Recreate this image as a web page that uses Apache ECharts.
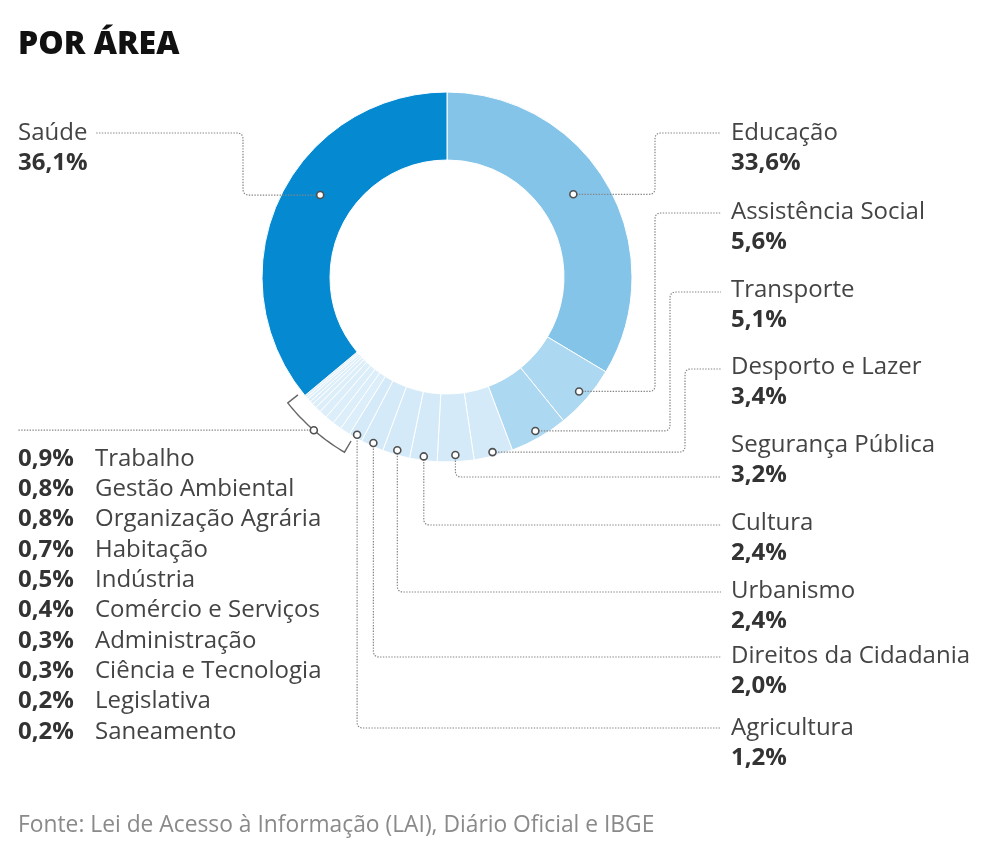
<!DOCTYPE html>
<html><head><meta charset="utf-8">
<script src="https://cdn.jsdelivr.net/npm/echarts@6/dist/echarts.min.js"></script>
<style>html,body{margin:0;padding:0;background:#fff}#c{width:984px;height:855px}</style>
</head><body><div id="c"></div>
<script>
// ---- data ----
const titleText = 'POR ÁREA';
const sourceText = 'Fonte: Lei de Acesso à Informação (LAI), Diário Oficial e IBGE';
const categories = ['Educação','Assistência Social','Transporte','Desporto e Lazer','Segurança Pública','Cultura','Urbanismo','Direitos da Cidadania','Agricultura','Trabalho','Gestão Ambiental','Organização Agrária','Habitação','Indústria','Comércio e Serviços','Administração','Ciência e Tecnologia','Legislativa','Saneamento','Saúde'];
const values = [33.6,5.6,5.1,3.4,3.2,2.4,2.4,2.0,1.2,0.9,0.8,0.8,0.7,0.5,0.4,0.3,0.3,0.2,0.2,36.1];
const smallStart = 9, smallEnd = 18; // grouped small categories (indices)

// ---- styles ----
const sliceColors = ['#85c4e9','#acd8f1','#acd8f1','#d4eaf8','#d4eaf8','#d4eaf8','#d4eaf8','#d4eaf8','#d4eaf8',
  '#dcEEF9','#dcEEF9','#dcEEF9','#dcEEF9','#dcEEF9','#dcEEF9','#dcEEF9','#dcEEF9','#dcEEF9','#dcEEF9','#0589d1'];
const FONT = '"Open Sans", "Noto Sans", sans-serif';
const FS = 24;
const fmt = v => v.toFixed(1).replace('.', ',') + '%';

const chart = echarts.init(document.getElementById('c'), null, {renderer: 'canvas'});
chart.setOption({
  animation: false,
  backgroundColor: '#fff',
  series: [{
    type: 'pie', startAngle: 90, clockwise: true,
    center: [447, 277], radius: [117, 185],
    silent: true, label: {show: false}, labelLine: {show: false},
    emphasis: {disabled: true},
    itemStyle: {borderColor: '#fff', borderWidth: 1},
    data: categories.map((n, i) => ({name: n, value: values[i], itemStyle: {color: sliceColors[i]}}))
  }]
});

const sData = chart.getModel().getSeriesByIndex(0).getData();
const L = i => sData.getItemLayout(i);
const pt = (l, a, r) => [l.cx + r * Math.cos(a), l.cy + r * Math.sin(a)];

// label layout config (positions of labels / routing of leader lines)
const rightX = 731, lineEndR = 721;
const route = {
  0: {kind: 'hv', elbowX: 655, lineY: 133, nameY: 133, frac: 0.47, rr: 0.5},
  1: {kind: 'hv', elbowX: 655, lineY: 213, nameY: 212, frac: 0.5, rr: 0.85},
  2: {kind: 'hv', elbowX: 670, lineY: 292, nameY: 290, frac: 0.5, rr: 0.89},
  3: {kind: 'hv', elbowX: 685, lineY: 369, nameY: 367, frac: 0.5, rr: 0.94},
  4: {kind: 'vh', lineY: 477, nameY: 445, frac: 0.5, rr: 0.9},
  5: {kind: 'vh', lineY: 525, nameY: 523, frac: 0.5, rr: 0.94},
  6: {kind: 'vh', lineY: 592, nameY: 591, frac: 0.5, rr: 0.93},
  7: {kind: 'vh', lineY: 657, nameY: 656, frac: 0.5, rr: 0.95},
  8: {kind: 'vh', lineY: 728, nameY: 728, frac: 0.5, rr: 0.95},
  19: {kind: 'left', elbowX: 243, lineY: 133, nameY: 133, frac: 0.56, rr: 0.5}
};

function rounded(pts, rad) {
  const out = [pts[0]];
  for (let i = 1; i < pts.length - 1; i++) {
    const p = pts[i - 1], c = pts[i], n = pts[i + 1];
    const d1 = [p[0] - c[0], p[1] - c[1]], d2 = [n[0] - c[0], n[1] - c[1]];
    const l1 = Math.hypot(d1[0], d1[1]) || 1, l2 = Math.hypot(d2[0], d2[1]) || 1;
    const r1 = Math.min(rad, l1 / 2), r2 = Math.min(rad, l2 / 2);
    const a = [c[0] + d1[0] / l1 * r1, c[1] + d1[1] / l1 * r1];
    const b = [c[0] + d2[0] / l2 * r2, c[1] + d2[1] / l2 * r2];
    for (let k = 0; k <= 6; k++) {
      const t = k / 6;
      out.push([(1 - t) * (1 - t) * a[0] + 2 * (1 - t) * t * c[0] + t * t * b[0],
                (1 - t) * (1 - t) * a[1] + 2 * (1 - t) * t * c[1] + t * t * b[1]]);
    }
  }
  out.push(pts[pts.length - 1]);
  return out;
}

const lineStyle = {stroke: '#858585', lineWidth: 1.2, lineDash: [1.4, 1.4], fill: null};
const g = [];
const dots = [];
function txt(x, y, text, bold, opts) {
  g.push({type: 'text', x: x, y: y, z: 20, style: Object.assign({
    text: text, fontFamily: FONT, fontSize: FS, fontWeight: bold ? 'bold' : 'normal',
    fill: bold ? '#333' : '#444', verticalAlign: 'middle', align: 'left'}, opts || {})});
}
function dot(p) {
  dots.push({type: 'circle', z: 30, shape: {cx: p[0], cy: p[1], r: 3.5},
    style: {fill: '#fff', stroke: '#505050', lineWidth: 1.6}});
}

Object.keys(route).forEach(k => {
  const i = +k, c = route[i], l = L(i);
  const a = l.startAngle + (l.endAngle - l.startAngle) * c.frac;
  const p = pt(l, a, l.r0 + (l.r - l.r0) * c.rr);
  let pts;
  if (c.kind === 'hv') pts = [p, [c.elbowX, p[1]], [c.elbowX, c.lineY], [lineEndR, c.lineY]];
  else if (c.kind === 'vh') pts = [p, [p[0], c.lineY], [lineEndR, c.lineY]];
  else pts = [p, [c.elbowX, p[1]], [c.elbowX, c.lineY], [95, c.lineY]];
  g.push({type: 'polyline', z: 10, shape: {points: rounded(pts, 6)}, style: lineStyle});
  dot(p);
  if (c.kind === 'left') {
    txt(18, c.nameY, categories[i], false);
    txt(18, c.nameY + 30, fmt(values[i]), true);
  } else {
    txt(rightX, c.nameY, categories[i], false);
    txt(rightX, c.nameY + 30, fmt(values[i]), true);
  }
});

// bracket around small categories
(function () {
  const l0 = L(smallStart), l1 = L(smallEnd);
  const ext = 1.5 * Math.PI / 180;
  const a0 = l0.startAngle - ext, a1 = l1.endAngle + ext;
  const rb = l0.r + 18, rt = l0.r + 5;
  const arc = [pt(l0, a0, rt)];
  for (let k = 0; k <= 20; k++) arc.push(pt(l0, a0 + (a1 - a0) * k / 20, rb));
  arc.push(pt(l0, a1, rt));
  g.push({type: 'polyline', z: 10, shape: {points: arc}, style: {stroke: '#666', lineWidth: 1.4, fill: null}});
  const pm = pt(l0, (a0 + a1) / 2, rb);
  g.push({type: 'polyline', z: 10, shape: {points: [pm, [18, pm[1]]]}, style: lineStyle});
  dot(pm);
  for (let i = smallStart; i <= smallEnd; i++) {
    const y = 459 + (i - smallStart) * 30.3;
    txt(18, y, fmt(values[i]), true);
    txt(95, y, categories[i], false);
  }
})();

txt(18, 45, titleText, true, {fontSize: 32, fontWeight: 800, fill: '#111'});
txt(18, 826, sourceText, false, {fontSize: 22.8, fill: '#8a8a8a'});

chart.setOption({graphic: {elements: g.concat(dots)}});
</script>
</body></html>
